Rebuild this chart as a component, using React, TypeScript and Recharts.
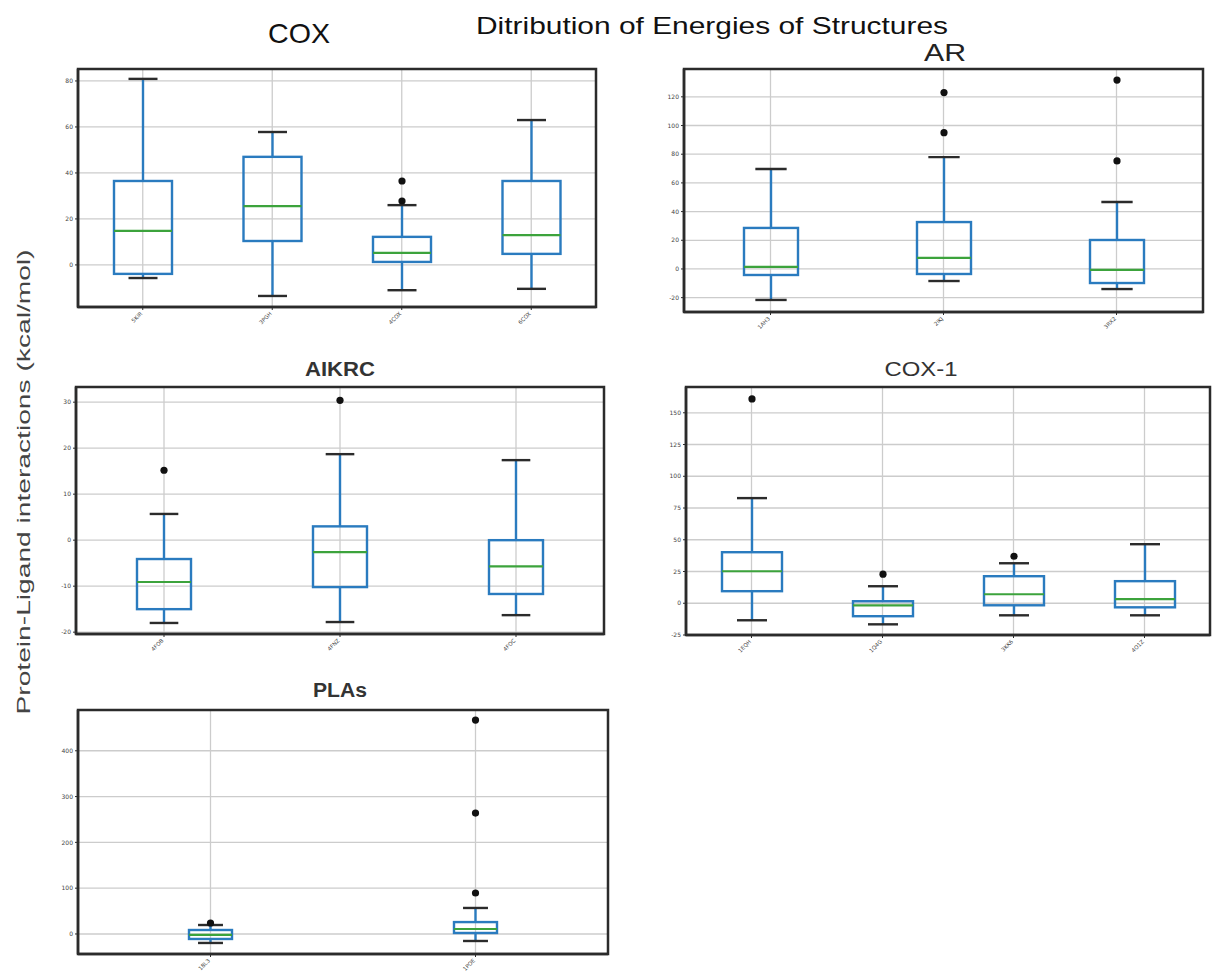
import { Bar, CartesianGrid, ComposedChart, ReferenceArea, XAxis, YAxis } from "recharts"

// COX
const coxNames = ["5KIR", "3PGH", "4COX", "6COX"]
const coxMin = [-5.7, -13.5, -11, -10.4]
const coxQ1 = [-3.9, 10.4, 1.3, 4.8]
const coxMed = [14.8, 25.6, 5.2, 13]
const coxQ3 = [36.5, 47, 12.2, 36.5]
const coxMax = [80.9, 57.8, 26, 63]
const coxOut = [[], [], [36.5, 27.8], []]
const coxTicks = [0, 20, 40, 60, 80]

// AR
const arNames = ["1AH3", "2IKJ", "3RX2"]
const arMin = [-21.6, -8.4, -14]
const arQ1 = [-4.2, -3.5, -9.8]
const arMed = [1.4, 7.7, -0.7]
const arQ3 = [28.6, 32.7, 20.2]
const arMax = [69.7, 78, 46.7]
const arOut = [[], [123, 95], [131.7, 75.3]]
const arTicks = [-20, 0, 20, 40, 60, 80, 100, 120]

// AIKRC
const aikNames = ["4FOB", "4FNZ", "4FOC"]
const aikMin = [-18, -17.8, -16.3]
const aikQ1 = [-15, -10.2, -11.7]
const aikMed = [-9.1, -2.6, -5.7]
const aikQ3 = [-4.1, 3, 0]
const aikMax = [5.7, 18.7, 17.4]
const aikOut = [[15.2], [30.4], []]
const aikTicks = [-20, -10, 0, 10, 20, 30]

// COX-1
const cox1Names = ["1EQH", "1Q4G", "3KK6", "4O1Z"]
const cox1Min = [-13.4, -16.6, -9.5, -9.5]
const cox1Q1 = [9.5, -10.2, -1.6, -3.2]
const cox1Med = [25.2, -1.6, 7.1, 3.2]
const cox1Q3 = [40.2, 1.6, 21.3, 17.4]
const cox1Max = [82.8, 13.4, 31.5, 46.5]
const cox1Out = [[160.9], [22.9], [37], []]
const cox1Ticks = [-25, 0, 25, 50, 75, 100, 125, 150]

// PLAs
const plaNames = ["1BL3", "1POE"]
const plaMin = [-19.6, -15.3]
const plaQ1 = [-10.9, 2.2]
const plaMed = [-2, 10.9]
const plaQ3 = [8.7, 26]
const plaMax = [19.6, 56.8]
const plaOut = [[24], [89.5, 264, 467]]
const plaTicks = [0, 100, 200, 300, 400]

const BLUE = "#2a7bbf"
const GREEN = "#3ca33c"
const DARK = "#2b2b2b"

type Row = {
  name: string
  span: [number, number]
  min: number
  q1: number
  med: number
  q3: number
  max: number
  out: number[]
}

function makeRows(
  names: string[], min: number[], q1: number[], med: number[],
  q3: number[], max: number[], out: number[][]
): Row[] {
  return names.map((name, i) => {
    const all = [min[i], max[i], ...out[i]]
    return {
      name,
      span: [Math.min(...all), Math.max(...all)],
      min: min[i], q1: q1[i], med: med[i], q3: q3[i], max: max[i], out: out[i],
    }
  })
}

// draws one box: whiskers, caps, box, median and fliers, placed from the bar's own scaled span
function BoxShape(props: any) {
  const { x, y, width, height, payload, capFrac } = props
  const top = Math.min(y, y + height)
  const h = Math.abs(height)
  const [lo, hi] = payload.span
  const py = (v: number) => top + ((hi - v) / (hi - lo)) * h
  const cx = x + width / 2
  const cap = (width * capFrac) / 2
  return (
    <g>
      <line x1={cx} x2={cx} y1={py(payload.q3)} y2={py(payload.max)} stroke={BLUE} strokeWidth={2.4} />
      <line x1={cx} x2={cx} y1={py(payload.q1)} y2={py(payload.min)} stroke={BLUE} strokeWidth={2.4} />
      <line x1={cx - cap} x2={cx + cap} y1={py(payload.max)} y2={py(payload.max)} stroke={DARK} strokeWidth={2.4} />
      <line x1={cx - cap} x2={cx + cap} y1={py(payload.min)} y2={py(payload.min)} stroke={DARK} strokeWidth={2.4} />
      <rect x={x} y={py(payload.q3)} width={width} height={py(payload.q1) - py(payload.q3)}
        fill="none" stroke={BLUE} strokeWidth={2.4} />
      <line x1={x} x2={x + width} y1={py(payload.med)} y2={py(payload.med)} stroke={GREEN} strokeWidth={2.2} />
      {payload.out.map((v: number, i: number) => (
        <circle key={i} cx={cx} cy={py(v)} r={3.6} fill="#111" />
      ))}
    </g>
  )
}

function SlantTick(props: any) {
  const { x, y, payload } = props
  const ty = y + 2
  return (
    <text x={x} y={ty} transform={`rotate(-45 ${x} ${ty})`} textAnchor="end"
      fontSize={5.5} fill="#444" fontFamily="DejaVu Sans">
      {payload.value}
    </text>
  )
}

interface PanelProps {
  rows: Row[]
  ticks: number[]
  domain: [number, number]
  x0: number
  x1: number
  y0: number
  y1: number
  boxWidth: number
  capFrac: number
}

function Panel({ rows, ticks, domain, x0, x1, y0, y1, boxWidth, capFrac }: PanelProps) {
  const yw = 36
  const xh = 30
  const left = x0 - yw
  const top = y0 - 4
  const width = x1 - x0 + yw + 4
  const height = y1 - y0 + 4 + xh
  return (
    <div style={{ position: "absolute", left, top }}>
      <ComposedChart width={width} height={height} data={rows}
        margin={{ top: 4, right: 4, left: 0, bottom: 0 }}>
        <CartesianGrid stroke="#cccccc" strokeWidth={1.3} />
        <XAxis dataKey="name" type="category" height={xh} tick={<SlantTick />}
          tickSize={3} tickLine={{ stroke: DARK }} axisLine={{ stroke: DARK, strokeWidth: 2.5 }}
          interval={0} />
        <YAxis type="number" domain={domain} ticks={ticks} allowDataOverflow width={yw}
          tickSize={3} tickLine={{ stroke: DARK }} axisLine={{ stroke: DARK, strokeWidth: 2.5 }}
          tick={{ fontSize: 6, fill: "#444", fontFamily: "DejaVu Sans" }} />
        <ReferenceArea y1={domain[0]} y2={domain[1]} fill="none" stroke={DARK} strokeWidth={2.5} />
        <Bar dataKey="span" barSize={boxWidth} isAnimationActive={false}
          shape={(p: any) => <BoxShape {...p} capFrac={capFrac} />} />
      </ComposedChart>
    </div>
  )
}

const coxRows = makeRows(coxNames, coxMin, coxQ1, coxMed, coxQ3, coxMax, coxOut)
const arRows = makeRows(arNames, arMin, arQ1, arMed, arQ3, arMax, arOut)
const aikRows = makeRows(aikNames, aikMin, aikQ1, aikMed, aikQ3, aikMax, aikOut)
const cox1Rows = makeRows(cox1Names, cox1Min, cox1Q1, cox1Med, cox1Q3, cox1Max, cox1Out)
const plaRows = makeRows(plaNames, plaMin, plaQ1, plaMed, plaQ3, plaMax, plaOut)

export default function App() {
  const font = "'Liberation Sans', Arial, sans-serif"
  return (
    <div style={{ position: "absolute", left: 0, top: 0, width: 1213, height: 973, overflow: "hidden", background: "#fff" }}>
      <Panel rows={coxRows} ticks={coxTicks} domain={[-18.3, 85.2]}
        x0={78} x1={596} y0={69} y1={307} boxWidth={58} capFrac={0.5} />
      <Panel rows={arRows} ticks={arTicks} domain={[-30, 139.4]}
        x0={684} x1={1203} y0={69} y1={312} boxWidth={54} capFrac={0.58} />
      <Panel rows={aikRows} ticks={aikTicks} domain={[-20.4, 33.3]}
        x0={76} x1={604} y0={387} y1={634} boxWidth={54} capFrac={0.53} />
      <Panel rows={cox1Rows} ticks={cox1Ticks} domain={[-25, 170.3]}
        x0={686} x1={1210} y0={387} y1={635} boxWidth={60} capFrac={0.5} />
      <Panel rows={plaRows} ticks={plaTicks} domain={[-43.7, 489]}
        x0={78} x1={608} y0={710} y1={954} boxWidth={43} capFrac={0.58} />
      <svg width={1213} height={973} style={{ position: "absolute", left: 0, top: 0, pointerEvents: "none" }}>
        <text x={712} y={34} fontSize={24} textAnchor="middle" fontFamily={font} fill="#111"
          textLength={472} lengthAdjust="spacingAndGlyphs">Ditribution of Energies of Structures</text>
        <text x={299} y={43} fontSize={28} textAnchor="middle" fontFamily={font} fill="#111"
          textLength={62} lengthAdjust="spacingAndGlyphs">COX</text>
        <text x={945} y={61} fontSize={24} textAnchor="middle" fontFamily={font} fill="#222"
          textLength={42} lengthAdjust="spacingAndGlyphs">AR</text>
        <text x={340} y={376} fontSize={20} fontWeight="bold" textAnchor="middle" fontFamily={font} fill="#333"
          textLength={70} lengthAdjust="spacingAndGlyphs">AIKRC</text>
        <text x={921} y={376} fontSize={21} textAnchor="middle" fontFamily={font} fill="#333"
          textLength={73} lengthAdjust="spacingAndGlyphs">COX-1</text>
        <text x={340} y={697} fontSize={20} fontWeight="bold" textAnchor="middle" fontFamily={font} fill="#333"
          textLength={54} lengthAdjust="spacingAndGlyphs">PLAs</text>
        <text x={30} y={482} fontSize={19} textAnchor="middle" fontFamily={font} fill="#444"
          transform="rotate(-90 30 482)" textLength={465} lengthAdjust="spacingAndGlyphs">
          Protein-Ligand interactions (kcal/mol)
        </text>
      </svg>
    </div>
  )
}
